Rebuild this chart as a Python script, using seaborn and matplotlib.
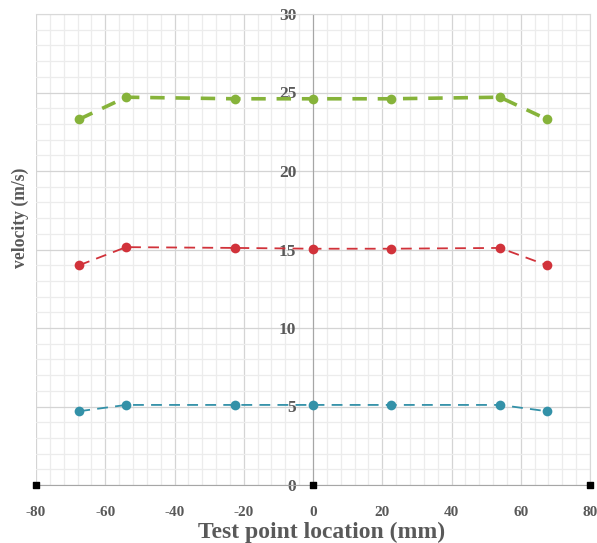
import pandas as pd
import seaborn as sns
import matplotlib.pyplot as plt
from matplotlib.ticker import MultipleLocator

# Data
location = [-67.5, -54, -22.5, 0, 22.5, 54, 67.5]
v_high = [23.3, 24.7, 24.6, 24.6, 24.6, 24.7, 23.3]
v_mid = [14.0, 15.15, 15.1, 15.05, 15.05, 15.1, 14.0]
v_low = [4.7, 5.1, 5.1, 5.1, 5.1, 5.1, 4.7]

x_ticks = [-80, -60, -40, -20, 0, 20, 40, 60, 80]
y_ticks = [0, 5, 10, 15, 20, 25, 30]

series = {"high": v_high, "mid": v_mid, "low": v_low}
colors = {"high": "#86b33a", "mid": "#d1323a", "low": "#3391a8"}
widths = {"high": 2.6, "mid": 1.3, "low": 1.3}

df = pd.concat([pd.DataFrame({"x": location, "v": vals, "s": name})
                for name, vals in series.items()])

sns.set_style("white")
plt.rcParams['font.family'] = ['Liberation Serif', 'DejaVu Serif']
plt.rcParams['axes.unicode_minus'] = False

fig = plt.figure(figsize=(5.97, 5.43), dpi=100)
ax = fig.add_axes([36 / 597, 1 - 485 / 543, 554 / 597, 471 / 543])

for name in series:
    sub = df[df["s"] == name]
    sns.lineplot(data=sub, x="x", y="v", ax=ax, color=colors[name],
                 linewidth=widths[name], linestyle=(0, (4, 3)) if name == "high" else (0, (6, 4)),
                 marker="o", markersize=7, markeredgewidth=0, zorder=3)

ax.set_xlim(x_ticks[0], x_ticks[-1])
ax.set_ylim(y_ticks[0], y_ticks[-1])
ax.set_xticks(x_ticks)
ax.set_yticks(y_ticks)
ax.xaxis.set_minor_locator(MultipleLocator(4))
ax.yaxis.set_minor_locator(MultipleLocator(1))
ax.grid(which="major", color="#d4d4d4", linewidth=0.9)
ax.grid(which="minor", color="#ececec", linewidth=0.9)
ax.set_axisbelow(True)

# y axis runs through x = 0
ax.spines['left'].set_position(('data', 0))
ax.spines['left'].set_color("#a6a6a6")
ax.spines['bottom'].set_color("#a6a6a6")
for side in ['top', 'right']:
    ax.spines[side].set_color("#d9d9d9")
ax.axvline(x_ticks[0], color="#d9d9d9", linewidth=1.2, zorder=0)

# black end markers on the horizontal axis
ax.scatter([x_ticks[0], 0, x_ticks[-1]], [y_ticks[0]] * 3, marker="s", s=22,
           color="black", zorder=5, clip_on=False)

ax.tick_params(axis="both", length=0, colors="#595959")
ax.tick_params(axis="y", pad=12, labelsize=12.5)
ax.tick_params(axis="x", pad=15, labelsize=11)
for lab in ax.get_xticklabels() + ax.get_yticklabels():
    lab.set_fontweight("bold")

ax.set_xlabel("Test point location (mm)", fontsize=17, fontweight="bold",
              color="#595959")
ax.xaxis.set_label_coords(0.515, -0.079)
ax.set_ylabel("velocity (m/s)", fontsize=12.7, fontweight="bold", color="#595959")
ax.yaxis.set_label_coords(-0.013, 0.567)

fig.savefig("out.png", dpi=100)
